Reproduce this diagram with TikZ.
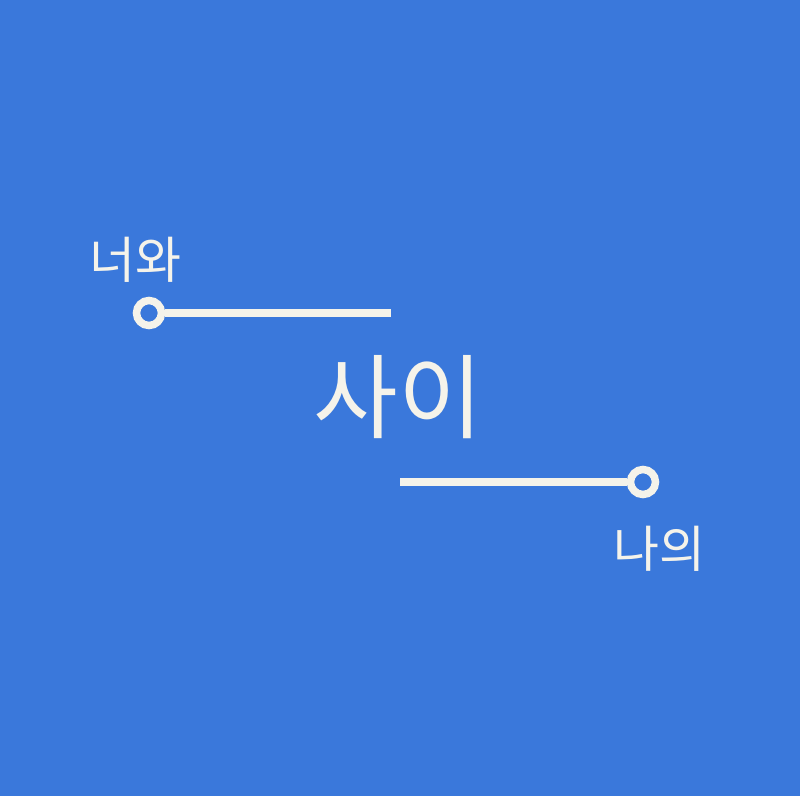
\documentclass[tikz,border=0pt]{standalone}
\usepackage{fontspec}
\newfontfamily\kofont{Noto Sans CJK KR}
\definecolor{bg}{HTML}{3A78DB}
\definecolor{ink}{HTML}{F5F3EA}
\tikzset{
  lbl/.style={text=ink, inner sep=0pt, font=\kofont\fontsize{50}{50}\selectfont},
  big/.style={text=ink, inner sep=0pt, font=\kofont\fontsize{92}{92}\selectfont},
  ring/.style={circle, draw=ink, line width=7.5pt, minimum size=25pt, inner sep=0pt},
  bar/.style={draw=ink, line width=8pt}
}
\begin{document}
\begin{tikzpicture}[x=1pt,y=-1pt]
\fill[bg] (0,0) rectangle (800,796);
\useasboundingbox (0,0) rectangle (800,796);
\node[lbl] (t1) at (135,260) {너와};
\node[big] (t2) at (398,397) {사이};
\node[lbl] (t3) at (659,549) {나의};
\node[ring] (c1) at (149,313) {};
\coordinate (e1) at (391,313);
\node[ring] (c2) at (643,482) {};
\coordinate (e2) at (400,482);
\draw[bar] (c1.east) -- (e1);
\draw[bar] (e2) -- (c2.west);
\end{tikzpicture}
\end{document}
